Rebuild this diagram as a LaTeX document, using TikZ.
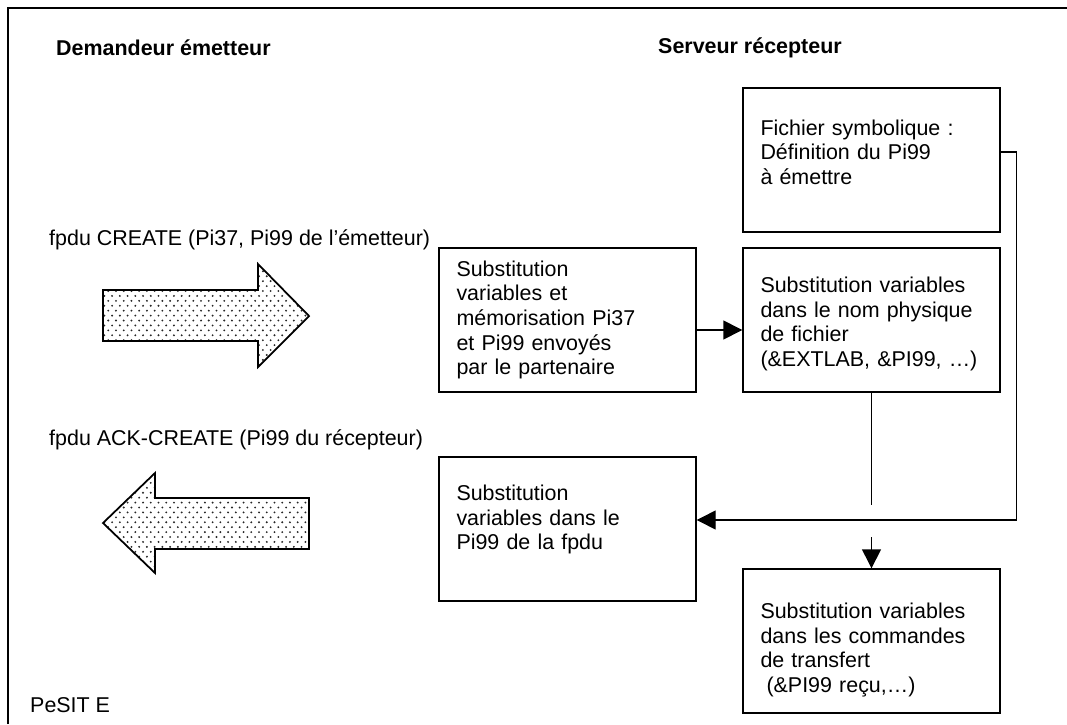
\documentclass[tikz,border=0pt]{standalone}
\usepackage{fontspec}
\setmainfont{Liberation Sans}
\usepackage{tikz}
\usetikzlibrary{arrows.meta}
\usetikzlibrary{patterns}

% semis de points des grosses fleches
\pgfdeclarepatternformonly{semis}{\pgfqpoint{-0.7pt}{-0.7pt}}{\pgfqpoint{2.9pt}{3.5pt}}{\pgfqpoint{4.4pt}{5.6pt}}
{\pgfpathcircle{\pgfqpoint{0pt}{0pt}}{0.6pt}
 \pgfpathcircle{\pgfqpoint{2.2pt}{2.8pt}}{0.6pt}
 \pgfusepath{fill}}

\begin{document}
\begin{tikzpicture}[font=\fontsize{12.2}{14.05}\selectfont,
   >={Triangle[length=0.38cm,width=0.38cm]},
   boite/.style={draw, line width=0.8pt,
      minimum width=5.14cm, minimum height=2.88cm,
      text width=4.44cm, inner xsep=0.35cm, align=left},
   bloc/.style={draw, line width=1pt, pattern=semis, pattern color=black!85}]
\useasboundingbox (0,0) rectangle (21.34,14.48);
\draw[line width=1pt] (0.16,0) -- (0.16,14.32) -- (21.4,14.32);

\node[anchor=west] (demandeur) at (1.0,13.52) {\textbf{Demandeur émetteur}};
\node[anchor=west] (serveur) at (13.04,13.52) {\textbf{Serveur récepteur}};

\node[anchor=west] (create) at (0.86,9.68) {fpdu CREATE (Pi37, Pi99 de l’émetteur)};
\node[anchor=west] (ack) at (0.86,5.68) {fpdu ACK-CREATE (Pi99 du récepteur)};
\node[anchor=west] (pesit) at (0.48,0.38) {PeSIT E};

% grosses fleches
\draw[bloc] (2.06,8.68) -- (5.16,8.68) -- (5.16,9.20) -- (6.18,8.16)
   -- (5.16,7.14) -- (5.16,7.66) -- (2.06,7.66) -- cycle;
\draw[bloc] (6.18,4.52) -- (3.10,4.52) -- (3.10,5.02) -- (2.06,4.02)
   -- (3.10,3.02) -- (3.10,3.50) -- (6.18,3.50) -- cycle;

\node[boite] (fic) at (17.43,11.28)
  {Fichier symbolique :\\Définition du Pi99\\à émettre\rule[-0.32cm]{0pt}{0pt}};
\node[boite] (mem) at (11.35,8.08)
  {Substitution\\variables et\\mémorisation Pi37\\et Pi99 envoyés\\par le partenaire};
\node[boite] (nom) at (17.43,8.08)
  {\rule{0pt}{0.47cm}Substitution variables\\dans le nom physique\\de fichier\\(\&EXTLAB, \&PI99, …)};
\node[boite] (pi) at (11.35,3.90)
  {Substitution\\variables dans le\\Pi99 de la fpdu\rule[-0.47cm]{0pt}{0pt}};
\node[boite] (cmd) at (17.43,1.66)
  {\rule{0pt}{0.67cm}Substitution variables\\dans les commandes\\de transfert\\\hspace*{0.28em}(\&PI99 reçu,…)};

\coordinate (coupure) at (17.43,4.38);
\coordinate (reprise) at (17.43,3.74);

\draw[->, line width=0.8pt] ([yshift=-0.2cm]mem.east) -- ([yshift=-0.2cm]nom.west);
\draw[->, line width=0.8pt] ([yshift=0.16cm]fic.east) -- ++(0.32,0) |- ([yshift=0.18cm]pi.east);
\draw[line width=0.8pt] (nom.south) -- (coupure);
\draw[->, line width=0.8pt] (reprise) -- (cmd.north);
\end{tikzpicture}
\end{document}
